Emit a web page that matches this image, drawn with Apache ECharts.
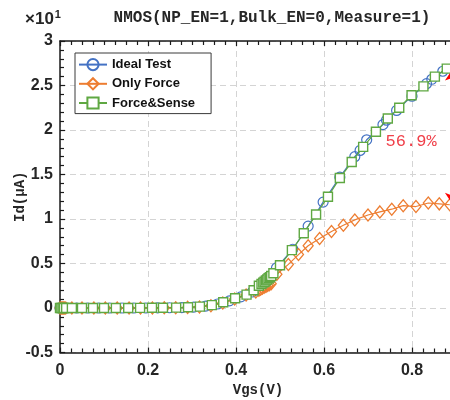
<!DOCTYPE html>
<html><head><meta charset="utf-8">
<script src="https://cdn.jsdelivr.net/npm/echarts@6/dist/echarts.min.js"></script>
<style>html,body{margin:0;padding:0;background:#fff}#c{width:450px;height:400px}</style>
</head><body><div id="c"></div>
<script>
// ---- data (Id in units of 10^1 uA) ----
const titleText = 'NMOS(NP_EN=1,Bulk_EN=0,Measure=1)';
const seriesNames = ['Ideal Test', 'Only Force', 'Force&Sense'];
const xTicks = [0, 0.2, 0.4, 0.6, 0.8];
const yTicks = [-0.5, 0, 0.5, 1, 1.5, 2, 2.5, 3];

const vgsIdeal = [0, 0.004, 0.008, 0.012, 0.038, 0.063, 0.088, 0.113, 0.141, 0.168, 0.195, 0.222, 0.249, 0.277, 0.304, 0.331, 0.358, 0.385, 0.411, 0.437, 0.465, 0.492, 0.529, 0.564, 0.598, 0.636, 0.67, 0.682, 0.697, 0.734, 0.742, 0.765, 0.8, 0.833, 0.845, 0.87];
const idIdeal  = [0, 0, 0, 0, 0, 0, 0, 0, 0, 0, 0, 0.001, 0.003, 0.005, 0.01, 0.022, 0.045, 0.08, 0.125, 0.18, 0.295, 0.45, 0.66, 0.92, 1.19, 1.47, 1.70, 1.77, 1.89, 2.06, 2.11, 2.22, 2.38, 2.52, 2.57, 2.66];

const vgsForce = [0, 0.002, 0.004, 0.006, 0.008, 0.01, 0.013, 0.027, 0.05, 0.077, 0.103, 0.13, 0.157, 0.183, 0.21, 0.237, 0.263, 0.29, 0.317, 0.343, 0.37, 0.397, 0.423, 0.445, 0.452, 0.456, 0.46, 0.464, 0.468, 0.472, 0.476, 0.48, 0.493, 0.519, 0.542, 0.564, 0.59, 0.617, 0.644, 0.67, 0.70, 0.727, 0.754, 0.78, 0.809, 0.837, 0.862, 0.886];
const idForce  = [0, 0, 0, 0, 0, 0, 0, 0, 0, 0, 0, 0, 0, 0, 0.001, 0.002, 0.004, 0.007, 0.012, 0.025, 0.055, 0.1, 0.145, 0.18, 0.2, 0.212, 0.222, 0.232, 0.242, 0.252, 0.262, 0.272, 0.38, 0.49, 0.60, 0.70, 0.78, 0.86, 0.93, 0.99, 1.045, 1.08, 1.11, 1.15, 1.14, 1.18, 1.17, 1.16];

const vgsFS = [0, 0.003, 0.006, 0.009, 0.014, 0.027, 0.05, 0.075, 0.1, 0.127, 0.155, 0.182, 0.209, 0.234, 0.264, 0.291, 0.318, 0.345, 0.371, 0.398, 0.424, 0.44, 0.452, 0.458, 0.462, 0.465, 0.468, 0.471, 0.474, 0.477, 0.48, 0.485, 0.5, 0.527, 0.554, 0.582, 0.609, 0.636, 0.663, 0.689, 0.718, 0.745, 0.771, 0.799, 0.826, 0.852, 0.879];
const idFS  = [0, 0, 0, 0, 0, 0, 0, 0, 0, 0, 0, 0.001, 0.002, 0.003, 0.004, 0.008, 0.016, 0.032, 0.065, 0.11, 0.15, 0.2, 0.25, 0.27, 0.285, 0.295, 0.31, 0.32, 0.335, 0.345, 0.36, 0.39, 0.48, 0.65, 0.84, 1.05, 1.25, 1.46, 1.64, 1.81, 1.98, 2.13, 2.25, 2.39, 2.49, 2.60, 2.69];

const diffLabel = '56.9%';
const diffLabelPos = [0.798, 1.87];
const arrowX = 0.893;
const arrowTop = 2.69;
const arrowBottom = 1.16;

const colors = ['#4472C4', '#ED7D31', '#5FA842'];
const zip = (xs, ys) => xs.map((x, i) => [x, ys[i]]);

const chart = echarts.init(document.getElementById('c'), null, {renderer: 'canvas'});
const labelFont = {fontFamily: 'Liberation Sans', fontWeight: 'bold', fontSize: 16, color: '#262626'};
const monoFont = {fontFamily: 'Liberation Mono', fontWeight: 'bold', fontSize: 14, color: '#262626'};
const grid = {left: 60, top: 41, width: 396, height: 311.5, containLabel: false, outerBoundsMode: 'none'};

function baseX(pos, showLabels) {
  return {
    type: 'value', position: pos, min: 0, max: 0.9, interval: 0.2,
    axisLine: {show: true, onZero: false, lineStyle: {color: '#1a1a1a', width: 1.5}},
    axisTick: {show: true, inside: true, length: 5, lineStyle: {color: '#1a1a1a', width: 1.2}},
    minorTick: {show: true, splitNumber: 8, length: 4, lineStyle: {color: '#1a1a1a', width: 1.2}},
    axisLabel: showLabels ? Object.assign({show: true, margin: 10, showMaxLabel: false, formatter: v => xTicks.includes(+v.toFixed(2)) ? String(+v.toFixed(2)) : ''}, labelFont) : {show: false},
    splitLine: {show: showLabels, lineStyle: {color: '#d4d4d4', type: [6, 4], width: 1}},
    minorSplitLine: {show: false}
  };
}

const option = {
  animation: false,
  backgroundColor: '#fff',
  title: [
    {text: titleText, left: 267, top: 5, textAlign: 'center', textStyle: {fontFamily: 'Liberation Mono', fontWeight: 'bold', fontSize: 16, color: '#262626'}},
    {text: '{a|×10}{b|1}', left: 20, top: 4, textStyle: {rich: {a: {fontFamily: 'Liberation Sans', fontSize: 17, color: '#262626', verticalAlign: 'bottom'}, b: {fontFamily: 'Liberation Sans', fontSize: 11, color: '#262626', verticalAlign: 'top', padding: [0, 0, 8, 1]}}}}
  ],
  grid: grid,
  legend: {
    data: seriesNames, orient: 'vertical', left: 75, top: 53,
    backgroundColor: '#fff', borderColor: '#3a3a3a', borderWidth: 1,
    padding: [5, 16, 4, 3], itemGap: 6, itemWidth: 28, itemHeight: 14,
    textStyle: {fontFamily: 'Liberation Sans', fontWeight: 'bold', fontSize: 13, color: '#111'}
  },
  xAxis: [
    Object.assign(baseX('bottom', true), {name: 'Vgs(V)', nameLocation: 'middle', nameGap: 31, nameMoveOverlap: false, nameTextStyle: monoFont}),
    Object.assign(baseX('top', false), {})
  ],
  yAxis: [{
    type: 'value', min: -0.5, max: 3, interval: 0.5,
    name: 'Id(μA)', nameLocation: 'middle', nameGap: 33, nameMoveOverlap: false, nameTextStyle: monoFont,
    axisLine: {show: true, onZero: false, lineStyle: {color: '#1a1a1a', width: 1.5}},
    axisTick: {show: true, inside: true, length: 5, lineStyle: {color: '#1a1a1a', width: 1.2}},
    minorTick: {show: true, splitNumber: 5, length: 4, lineStyle: {color: '#1a1a1a', width: 1.2}},
    axisLabel: Object.assign({margin: 7, formatter: v => String(+v.toFixed(2))}, labelFont),
    splitLine: {show: true, lineStyle: {color: '#d4d4d4', type: [6, 4], width: 1}}
  }],
  series: [
    {
      name: seriesNames[0], type: 'line', data: zip(vgsIdeal, idIdeal),
      symbol: 'circle', symbolSize: 10, showAllSymbol: true,
      lineStyle: {color: colors[0], width: 1.2},
      itemStyle: {color: 'rgba(255,255,255,0)', borderColor: colors[0], borderWidth: 1.2}, z: 2
    },
    {
      name: seriesNames[1], type: 'line', data: zip(vgsForce, idForce),
      symbol: 'diamond', symbolSize: [10, 12], showAllSymbol: true,
      lineStyle: {color: colors[1], width: 1.2},
      itemStyle: {color: 'rgba(255,255,255,0)', borderColor: colors[1], borderWidth: 1.3}, z: 3,
      markLine: {
        silent: true, symbol: ['arrow', 'arrow'], symbolSize: [12, 12], animation: false,
        lineStyle: {color: '#ff0000', type: 'solid', width: 1.5}, label: {show: false},
        data: [[{coord: [arrowX, arrowTop]}, {coord: [arrowX, arrowBottom]}]]
      }
    },
    {
      name: seriesNames[2], type: 'line', data: zip(vgsFS, idFS),
      symbol: 'rect', symbolSize: 9, showAllSymbol: true,
      lineStyle: {color: colors[2], width: 1.2},
      itemStyle: {color: '#fff', borderColor: colors[2], borderWidth: 1.4}, z: 4,
      markPoint: {
        silent: true, symbol: 'circle', symbolSize: 1, itemStyle: {color: 'rgba(0,0,0,0)'},
        label: {show: true, position: 'inside', formatter: diffLabel, fontFamily: 'Liberation Mono', fontSize: 17, color: '#f0404a'},
        data: [{coord: diffLabelPos}]
      }
    }
  ]
};
chart.setOption(option);
</script></body></html>
